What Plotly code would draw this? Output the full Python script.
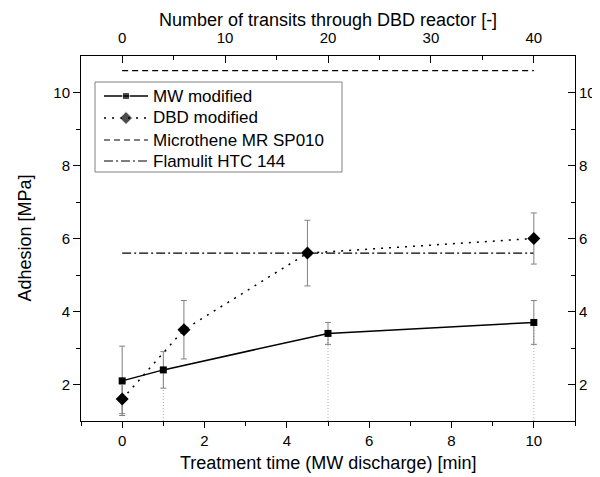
import plotly.graph_objects as go

# MW modified (bottom axis: treatment time, min)
mw_x = [0, 1, 5, 10]
mw_y = [2.1, 2.4, 3.4, 3.7]
mw_err = [0.95, 0.5, 0.3, 0.6]

# DBD modified (top axis: number of transits)
dbd_x = [0, 6, 18, 40]
dbd_y = [1.6, 3.5, 5.6, 6.0]
dbd_err = [0.4, 0.8, 0.9, 0.7]

# Reference levels (bottom-axis span)
ref_x = [0, 10]
microthene_y = 10.6
flamulit_y = 5.6

bottom_ticks = [0, 2, 4, 6, 8, 10]
top_ticks = [0, 10, 20, 30, 40]
y_ticks = [2, 4, 6, 8, 10]

y_min = 1
FONT = "Liberation Sans, Arial, sans-serif"
ERRC = "#808080"

# page geometry: the browser body adds an 8px margin, so work in screen px and shift
OFF = 8
SCR_W, SCR_H = 600, 477
W, H = SCR_W - OFF, SCR_H - OFF
plot_l, plot_r, plot_t, plot_b = 81, 575, 56, 421      # screen px
ML, MT = plot_l - OFF, plot_t - OFF
MR, MB = W - (plot_r - OFF), H - (plot_b - OFF)
PW, PH = plot_r - plot_l, plot_b - plot_t

styles = {
    "MW modified": dict(line=dict(color="black", width=1.5),
                        marker=dict(symbol="square", size=7, color="black")),
    "DBD modified": dict(line=dict(color="black", width=1.5, dash="2px,6px"),
                         marker=dict(symbol="diamond", size=10, color="black")),
    "Microthene MR SP010": dict(line=dict(color="black", width=1.2, dash="6px,4px"), marker=None),
    "Flamulit HTC 144": dict(line=dict(color="black", width=1.2, dash="9px,3px,2px,3px"), marker=None),
}

fig = go.Figure()

# drop lines from MW points to bottom axis
dx, dy = [], []
for xv, yv in zip(mw_x[1:], mw_y[1:]):
    dx += [xv, xv, None]
    dy += [y_min, yv, None]
fig.add_trace(go.Scatter(x=dx, y=dy, mode="lines", showlegend=False, hoverinfo="skip",
                         line=dict(color="#b0b0b0", width=1, dash="1px,2px")))

fig.add_trace(go.Scatter(
    x=mw_x, y=mw_y, mode="lines+markers", name="MW modified", showlegend=False,
    line=styles["MW modified"]["line"], marker=styles["MW modified"]["marker"],
    error_y=dict(type="data", array=mw_err, color=ERRC, thickness=1, width=3)))

fig.add_trace(go.Scatter(
    x=dbd_x, y=dbd_y, mode="lines+markers", name="DBD modified", xaxis="x2", showlegend=False,
    line=styles["DBD modified"]["line"], marker=styles["DBD modified"]["marker"],
    error_y=dict(type="data", array=dbd_err, color=ERRC, thickness=1, width=3)))

fig.add_trace(go.Scatter(
    x=ref_x, y=[microthene_y] * len(ref_x), mode="lines", name="Microthene MR SP010",
    showlegend=False, line=styles["Microthene MR SP010"]["line"]))

fig.add_trace(go.Scatter(
    x=ref_x, y=[flamulit_y] * len(ref_x), mode="lines", name="Flamulit HTC 144",
    showlegend=False, line=styles["Flamulit HTC 144"]["line"]))

# dummy trace to activate right y axis
fig.add_trace(go.Scatter(x=[None], y=[None], yaxis="y2", showlegend=False, hoverinfo="skip"))

# ---- hand-made legend (screen px converted to plot fractions) ----
def fx(px):
    return (px - plot_l) / PW

def fy(py):
    return 1 - (py - plot_t) / PH

box_l, box_r, box_t, box_b = 95, 342, 82, 172
row_y = [96, 118, 140, 161]
samp_l, samp_r, text_x = 104, 148, 151

fig.add_shape(type="rect", xref="paper", yref="paper",
              x0=fx(box_l), x1=fx(box_r), y0=fy(box_b), y1=fy(box_t),
              line=dict(color="#808080", width=1), fillcolor="white", layer="below")

for name, ry in zip(styles.keys(), row_y):
    st = styles[name]
    yy = fy(ry)
    xs = [fx(samp_l), fx((samp_l + samp_r) / 2), fx(samp_r)]
    if st["marker"] is not None:
        mk = dict(st["marker"])
        mk["size"] = [0, st["marker"]["size"], 0]
        fig.add_trace(go.Scatter(x=xs, y=[yy] * 3, mode="lines+markers", xaxis="x3", yaxis="y3",
                                 line=st["line"], marker=mk, showlegend=False, hoverinfo="skip"))
    else:
        fig.add_trace(go.Scatter(x=[xs[0], xs[2]], y=[yy] * 2, mode="lines", xaxis="x3", yaxis="y3",
                                 line=st["line"], showlegend=False, hoverinfo="skip"))
    fig.add_annotation(x=fx(text_x), y=yy, xref="paper", yref="paper", text=name,
                       showarrow=False, xanchor="left", yanchor="middle",
                       font=dict(family=FONT, size=17, color="black"))

tickfont = dict(family=FONT, size=15, color="black")
titlefont = dict(family=FONT, size=18, color="black")

# axis titles (screen px centres)
fig.add_annotation(x=0.5, y=0, xref="paper", yref="paper", yshift=-(463 - plot_b),
                   text="Treatment time (MW discharge) [min]", showarrow=False,
                   xanchor="center", yanchor="middle", font=titlefont)
fig.add_annotation(x=0.5, y=1, xref="paper", yref="paper", yshift=(plot_t - 20),
                   text="Number of transits through DBD reactor [-]", showarrow=False,
                   xanchor="center", yanchor="middle", font=titlefont)
fig.add_annotation(x=0, y=0.5, xref="paper", yref="paper", xshift=-(plot_l - 24),
                   text="Adhesion [MPa]", showarrow=False, textangle=-90,
                   xanchor="center", yanchor="middle", font=titlefont)

common = dict(tickwidth=1, tickcolor="black", showline=True, linecolor="black", linewidth=1,
              showgrid=False, zeroline=False, tickfont=tickfont, automargin=False)

fig.update_layout(
    width=W, height=H,
    margin=dict(l=ML, r=MR, t=MT, b=MB),
    paper_bgcolor="white", plot_bgcolor="white",
    font=dict(family=FONT, color="black"),
    showlegend=False,
    xaxis=dict(range=[-1, 11], tickvals=bottom_ticks, ticks="outside", ticklen=6,
               minor=dict(tickvals=[-1, 1, 3, 5, 7, 9, 11], ticks="outside", ticklen=4, tickcolor="black"),
               **common),
    xaxis2=dict(range=[-4, 44], overlaying="x", side="top", tickvals=top_ticks,
                ticks="inside", ticklen=7, ticklabelstandoff=6,
                minor=dict(tickvals=[5, 15, 25, 35], ticks="inside", ticklen=4, tickcolor="black"),
                **common),
    yaxis=dict(range=[1, 11], tickvals=y_ticks, ticks="outside", ticklen=7,
               minor=dict(tickvals=[3, 5, 7, 9], ticks="outside", ticklen=4, tickcolor="black"),
               **common),
    yaxis2=dict(range=[1, 11], overlaying="y", side="right", tickvals=y_ticks,
                ticks="inside", ticklen=7, ticklabelstandoff=0,
                minor=dict(tickvals=[3, 5, 7, 9], ticks="inside", ticklen=4, tickcolor="black"),
                **common),
    xaxis3=dict(range=[0, 1], overlaying="x", visible=False, fixedrange=True),
    yaxis3=dict(range=[0, 1], overlaying="y", visible=False, fixedrange=True),
)

fig.write_html("out.html")
